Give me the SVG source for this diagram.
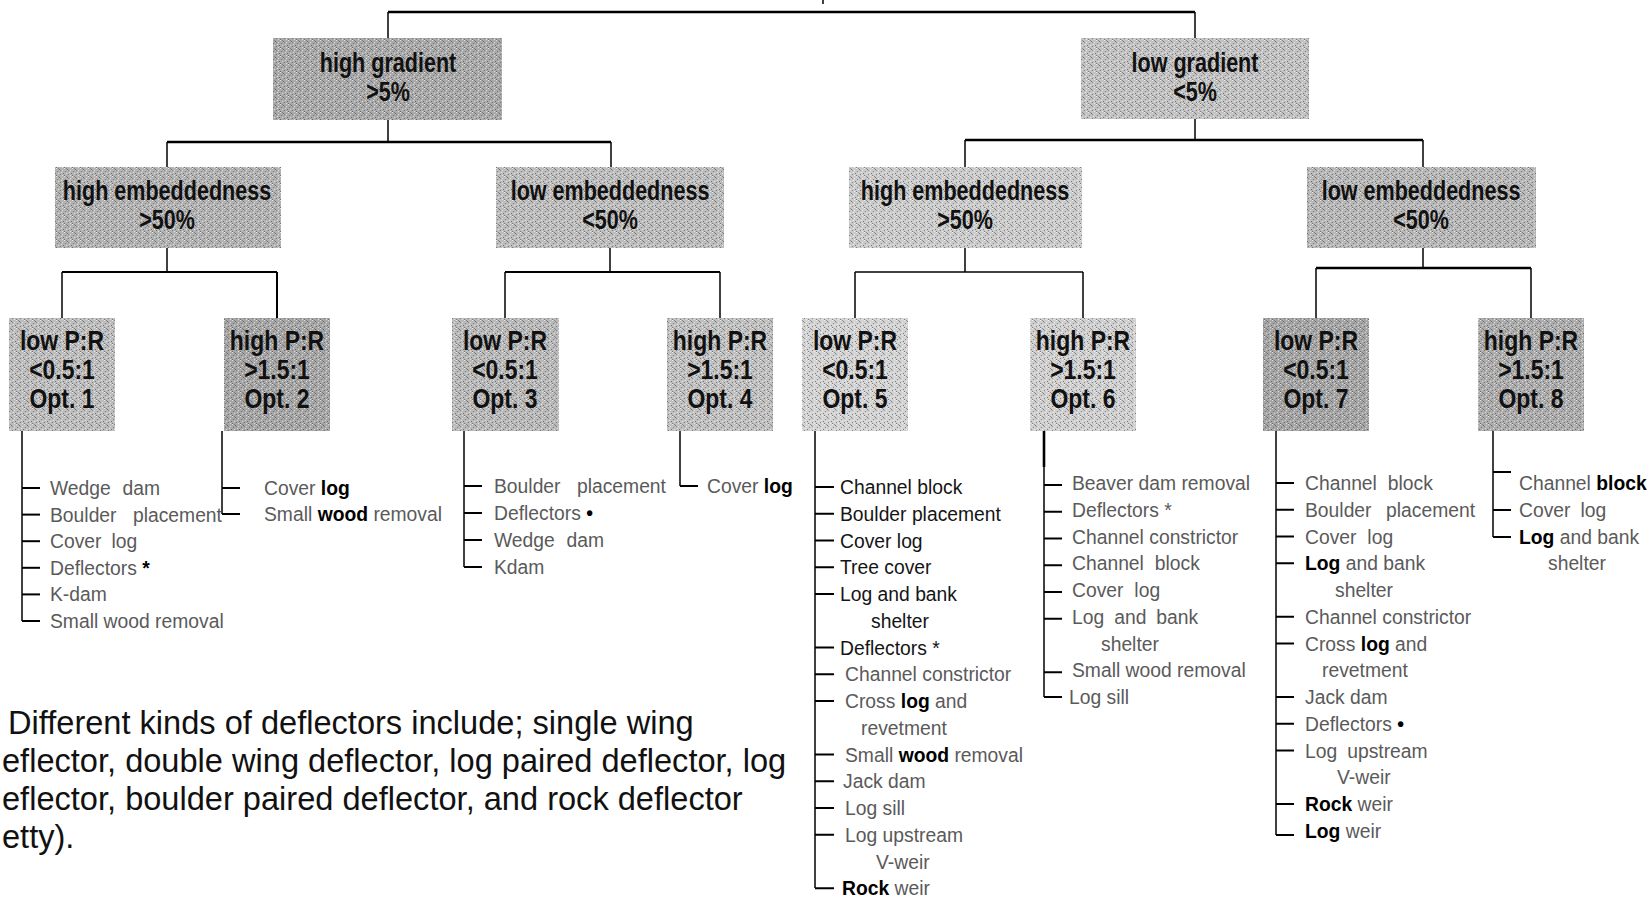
<svg xmlns="http://www.w3.org/2000/svg" width="1651" height="897" viewBox="0 0 1651 897">
<defs>
<pattern id="dith" width="8" height="8" patternUnits="userSpaceOnUse">
<rect x="0" y="0" width="1" height="1" fill="#fff"/><rect x="3" y="1" width="1" height="1" fill="#444"/>
<rect x="6" y="2" width="1" height="1" fill="#fff"/><rect x="1" y="3" width="1" height="1" fill="#555"/>
<rect x="5" y="4" width="1" height="1" fill="#fff"/><rect x="2" y="5" width="1" height="1" fill="#fff"/>
<rect x="7" y="5" width="1" height="1" fill="#444"/><rect x="4" y="6" width="1" height="1" fill="#555"/>
<rect x="0" y="7" width="1" height="1" fill="#444"/><rect x="6" y="7" width="1" height="1" fill="#fff"/>
<rect x="4" y="2" width="1" height="1" fill="#666"/><rect x="2" y="0" width="1" height="1" fill="#666"/>
</pattern>
</defs>
<style>
.dt{fill:url(#dith);opacity:.6}
.h{font-family:"Liberation Sans",Arial,sans-serif;font-weight:bold;font-size:28px;fill:#111;text-anchor:middle}
.li{font-family:"Liberation Sans",Arial,sans-serif;font-size:21px;fill:#5a5a5a}
.dk{fill:#151515}
.b{font-weight:bold;fill:#000}
.fn{font-family:"Liberation Sans",Arial,sans-serif;font-size:32.6px;fill:#111}
.c line{stroke:#000;stroke-width:1.5;fill:none}
.c .t{stroke-width:2.6}
.c .k{stroke-width:2}
</style>
<rect width="1651" height="897" fill="#fff"/>

<g id="connectors" class="c">
<line x1="823" y1="0" x2="823" y2="4"/>
<line class="t" x1="388" y1="12" x2="1195" y2="12"/>
<line x1="388" y1="12" x2="388" y2="38"/>
<line x1="1195" y1="12" x2="1195" y2="38"/>
<line x1="388" y1="120" x2="388" y2="142"/>
<line class="t" x1="167" y1="142" x2="611" y2="142"/>
<line x1="167" y1="142" x2="167" y2="167"/>
<line x1="611" y1="142" x2="611" y2="167"/>
<line x1="1195" y1="119" x2="1195" y2="140"/>
<line class="t" x1="965" y1="140" x2="1423" y2="140"/>
<line x1="965" y1="140" x2="965" y2="167"/>
<line x1="1423" y1="140" x2="1423" y2="167"/>
<line x1="167" y1="248" x2="167" y2="272"/>
<line class="k" x1="62" y1="272" x2="277" y2="272"/>
<line x1="62" y1="272" x2="62" y2="318"/>
<line class="k" x1="277" y1="272" x2="277" y2="318"/>
<line x1="610" y1="248" x2="610" y2="272"/>
<line class="k" x1="505" y1="272" x2="720" y2="272"/>
<line x1="505" y1="272" x2="505" y2="318"/>
<line x1="720" y1="272" x2="720" y2="318"/>
<line x1="965" y1="248" x2="965" y2="272"/>
<line x1="855" y1="272" x2="1083" y2="272"/>
<line x1="855" y1="272" x2="855" y2="318"/>
<line x1="1083" y1="272" x2="1083" y2="318"/>
<line x1="1423" y1="248" x2="1423" y2="268"/>
<line class="t" x1="1316" y1="268" x2="1531" y2="268"/>
<line x1="1316" y1="268" x2="1316" y2="318"/>
<line x1="1531" y1="268" x2="1531" y2="318"/>
<line x1="22" y1="431" x2="22" y2="621"/>
<line class="k" x1="22" y1="488" x2="40" y2="488"/><line class="k" x1="22" y1="514.6" x2="40" y2="514.6"/>
<line class="k" x1="22" y1="541.2" x2="40" y2="541.2"/><line class="k" x1="22" y1="567.8" x2="40" y2="567.8"/>
<line class="k" x1="22" y1="594.4" x2="40" y2="594.4"/><line class="k" x1="22" y1="621" x2="40" y2="621"/>
<line x1="222" y1="431" x2="222" y2="514"/>
<line class="k" x1="222" y1="488" x2="240" y2="488"/><line class="k" x1="222" y1="514" x2="240" y2="514"/>
<line x1="464" y1="431" x2="464" y2="567"/>
<line class="k" x1="464" y1="486" x2="482" y2="486"/><line class="k" x1="464" y1="513" x2="482" y2="513"/>
<line class="k" x1="464" y1="540" x2="482" y2="540"/><line class="k" x1="464" y1="567" x2="482" y2="567"/>
<line x1="680" y1="431" x2="680" y2="486"/>
<line class="k" x1="680" y1="486" x2="698" y2="486"/>
<line x1="815" y1="431" x2="815" y2="888"/>
<line class="k" x1="815" y1="487" x2="834" y2="487"/><line class="k" x1="815" y1="513.75" x2="834" y2="513.75"/>
<line class="k" x1="815" y1="540.5" x2="834" y2="540.5"/><line class="k" x1="815" y1="567.25" x2="834" y2="567.25"/>
<line class="k" x1="815" y1="594" x2="834" y2="594"/><line class="k" x1="815" y1="647.5" x2="834" y2="647.5"/>
<line class="k" x1="815" y1="674.25" x2="834" y2="674.25"/><line class="k" x1="815" y1="701" x2="834" y2="701"/>
<line class="k" x1="815" y1="754.5" x2="834" y2="754.5"/><line class="k" x1="815" y1="781.25" x2="834" y2="781.25"/>
<line class="k" x1="815" y1="808" x2="834" y2="808"/><line class="k" x1="815" y1="834.75" x2="834" y2="834.75"/>
<line class="k" x1="815" y1="888.25" x2="834" y2="888.25"/>
<line class="t" x1="1044" y1="431" x2="1044" y2="467"/>
<line x1="1044" y1="467" x2="1044" y2="697"/>
<line class="k" x1="1044" y1="485" x2="1062" y2="485"/><line class="k" x1="1044" y1="511.75" x2="1062" y2="511.75"/>
<line class="k" x1="1044" y1="538.5" x2="1062" y2="538.5"/><line class="k" x1="1044" y1="565.25" x2="1062" y2="565.25"/>
<line class="k" x1="1044" y1="592" x2="1062" y2="592"/><line class="k" x1="1044" y1="618.75" x2="1062" y2="618.75"/>
<line class="k" x1="1044" y1="672.25" x2="1062" y2="672.25"/><line class="k" x1="1044" y1="697" x2="1062" y2="697"/>
<line x1="1276" y1="431" x2="1276" y2="835"/>
<line class="k" x1="1276" y1="483" x2="1294" y2="483"/><line class="k" x1="1276" y1="509.75" x2="1294" y2="509.75"/>
<line class="k" x1="1276" y1="536.5" x2="1294" y2="536.5"/><line class="k" x1="1276" y1="563.25" x2="1294" y2="563.25"/>
<line class="k" x1="1276" y1="616.75" x2="1294" y2="616.75"/><line class="k" x1="1276" y1="643.5" x2="1294" y2="643.5"/>
<line class="k" x1="1276" y1="697" x2="1294" y2="697"/><line class="k" x1="1276" y1="723.75" x2="1294" y2="723.75"/>
<line class="k" x1="1276" y1="750.5" x2="1294" y2="750.5"/><line class="k" x1="1276" y1="804" x2="1294" y2="804"/>
<line class="k" x1="1276" y1="835" x2="1294" y2="835"/>
<line x1="1493" y1="431" x2="1493" y2="537"/>
<line class="k" x1="1493" y1="472" x2="1511" y2="472"/><line class="k" x1="1493" y1="510" x2="1511" y2="510"/>
<line class="k" x1="1493" y1="537" x2="1511" y2="537"/>
</g>

<g id="high-gradient">
<rect x="273" y="38" width="229" height="82" fill="#a9a9a9"/><rect class="dt" x="273" y="38" width="229" height="82"/>
<text class="h" transform="translate(388,72) scale(0.77,1)">high gradient</text>
<text class="h" transform="translate(388,101) scale(0.77,1)">&gt;5%</text>
</g>
<g id="low-gradient">
<rect x="1081" y="38" width="228" height="81" fill="#c2c2c2"/><rect class="dt" x="1081" y="38" width="228" height="81"/>
<text class="h" transform="translate(1195,72) scale(0.77,1)">low gradient</text>
<text class="h" transform="translate(1195,101) scale(0.77,1)">&lt;5%</text>
</g>

<g id="high-emb-1">
<rect x="55" y="167" width="226" height="81" fill="#b3b3b3"/><rect class="dt" x="55" y="167" width="226" height="81"/>
<text class="h" transform="translate(167,200) scale(0.77,1)">high embeddedness</text>
<text class="h" transform="translate(167,229) scale(0.77,1)">&gt;50%</text>
</g>
<g id="low-emb-1">
<rect x="496" y="167" width="228" height="81" fill="#bdbdbd"/><rect class="dt" x="496" y="167" width="228" height="81"/>
<text class="h" transform="translate(610,200) scale(0.77,1)">low embeddedness</text>
<text class="h" transform="translate(610,229) scale(0.77,1)">&lt;50%</text>
</g>
<g id="high-emb-2">
<rect x="849" y="167" width="233" height="81" fill="#cbcbcb"/><rect class="dt" x="849" y="167" width="233" height="81"/>
<text class="h" transform="translate(965,200) scale(0.77,1)">high embeddedness</text>
<text class="h" transform="translate(965,229) scale(0.77,1)">&gt;50%</text>
</g>
<g id="low-emb-2">
<rect x="1307" y="167" width="229" height="81" fill="#b7b7b7"/><rect class="dt" x="1307" y="167" width="229" height="81"/>
<text class="h" transform="translate(1421,200) scale(0.77,1)">low embeddedness</text>
<text class="h" transform="translate(1421,229) scale(0.77,1)">&lt;50%</text>
</g>

<g id="opt1">
<rect x="9" y="318" width="106" height="113" fill="#bdbdbd"/><rect class="dt" x="9" y="318" width="106" height="113"/>
<text class="h" transform="translate(62,350) scale(0.82,1)">low P:R</text>
<text class="h" transform="translate(62,379) scale(0.82,1)">&lt;0.5:1</text>
<text class="h" transform="translate(62,408) scale(0.82,1)">Opt. 1</text>
<g class="li">
<text transform="translate(50,495) scale(0.92,1)" style="word-spacing:7px">Wedge dam</text>
<text transform="translate(50,521.6) scale(0.92,1)" style="word-spacing:12px">Boulder placement</text>
<text transform="translate(50,548.2) scale(0.92,1)" style="word-spacing:5px">Cover log</text>
<text transform="translate(50,574.8) scale(0.92,1)">Deflectors <tspan class="b">*</tspan></text>
<text transform="translate(50,601.4) scale(0.92,1)">K-dam</text>
<text transform="translate(50,628) scale(0.92,1)">Small wood removal</text>
</g>
</g>
<g id="opt2">
<rect x="224" y="318" width="106" height="113" fill="#a6a6a6"/><rect class="dt" x="224" y="318" width="106" height="113"/>
<text class="h" transform="translate(277,350) scale(0.82,1)">high P:R</text>
<text class="h" transform="translate(277,379) scale(0.82,1)">&gt;1.5:1</text>
<text class="h" transform="translate(277,408) scale(0.82,1)">Opt. 2</text>
<g class="li">
<text transform="translate(264,495) scale(0.92,1)">Cover <tspan class="b">log</tspan></text>
<text transform="translate(264,521) scale(0.92,1)">Small <tspan class="b">wood</tspan> removal</text>
</g>
</g>
<g id="opt3">
<rect x="452" y="318" width="107" height="113" fill="#b9b9b9"/><rect class="dt" x="452" y="318" width="107" height="113"/>
<text class="h" transform="translate(505,350) scale(0.82,1)">low P:R</text>
<text class="h" transform="translate(505,379) scale(0.82,1)">&lt;0.5:1</text>
<text class="h" transform="translate(505,408) scale(0.82,1)">Opt. 3</text>
<g class="li">
<text transform="translate(494,493) scale(0.92,1)" style="word-spacing:12px">Boulder placement</text>
<text transform="translate(494,520) scale(0.92,1)">Deflectors  <tspan class="b">•</tspan></text>
<text transform="translate(494,547) scale(0.92,1)" style="word-spacing:7px">Wedge dam</text>
<text transform="translate(494,574) scale(0.92,1)">Kdam</text>
</g>
</g>
<g id="opt4">
<rect x="667" y="318" width="106" height="113" fill="#c0c0c0"/><rect class="dt" x="667" y="318" width="106" height="113"/>
<text class="h" transform="translate(720,350) scale(0.82,1)">high P:R</text>
<text class="h" transform="translate(720,379) scale(0.82,1)">&gt;1.5:1</text>
<text class="h" transform="translate(720,408) scale(0.82,1)">Opt. 4</text>
<g class="li">
<text transform="translate(707,493) scale(0.92,1)">Cover <tspan class="b">log</tspan></text>
</g>
</g>
<g id="opt5">
<rect x="802" y="318" width="106" height="113" fill="#d3d3d3"/><rect class="dt" x="802" y="318" width="106" height="113"/>
<text class="h" transform="translate(855,350) scale(0.82,1)">low P:R</text>
<text class="h" transform="translate(855,379) scale(0.82,1)">&lt;0.5:1</text>
<text class="h" transform="translate(855,408) scale(0.82,1)">Opt. 5</text>
<g class="li">
<text class="dk" transform="translate(840,494) scale(0.92,1)">Channel block</text>
<text class="dk" transform="translate(840,520.75) scale(0.92,1)">Boulder placement</text>
<text class="dk" transform="translate(840,547.5) scale(0.92,1)">Cover log</text>
<text class="dk" transform="translate(840,574.25) scale(0.92,1)">Tree cover</text>
<text class="dk" transform="translate(840,601) scale(0.92,1)">Log and bank</text>
<text class="dk" transform="translate(871,627.75) scale(0.92,1)">shelter</text>
<text class="dk" transform="translate(840,654.5) scale(0.92,1)">Deflectors *</text>
<text transform="translate(845,681.25) scale(0.92,1)">Channel constrictor</text>
<text transform="translate(845,708) scale(0.92,1)">Cross <tspan class="b">log</tspan> and</text>
<text transform="translate(861,734.75) scale(0.92,1)">revetment</text>
<text transform="translate(845,761.5) scale(0.92,1)">Small <tspan class="b">wood</tspan> removal</text>
<text transform="translate(843,788.25) scale(0.92,1)">Jack dam</text>
<text transform="translate(845,815) scale(0.92,1)">Log sill</text>
<text transform="translate(845,841.75) scale(0.92,1)">Log upstream</text>
<text transform="translate(876,868.5) scale(0.92,1)">V-weir</text>
<text transform="translate(842,895.25) scale(0.92,1)"><tspan class="b">Rock</tspan> weir</text>
</g>
</g>
<g id="opt6">
<rect x="1030" y="318" width="106" height="113" fill="#cfcfcf"/><rect class="dt" x="1030" y="318" width="106" height="113"/>
<text class="h" transform="translate(1083,350) scale(0.82,1)">high P:R</text>
<text class="h" transform="translate(1083,379) scale(0.82,1)">&gt;1.5:1</text>
<text class="h" transform="translate(1083,408) scale(0.82,1)">Opt. 6</text>
<g class="li">
<text transform="translate(1072,490) scale(0.92,1)">Beaver dam removal</text>
<text transform="translate(1072,516.75) scale(0.92,1)">Deflectors *</text>
<text transform="translate(1072,543.5) scale(0.92,1)">Channel constrictor</text>
<text transform="translate(1072,570.25) scale(0.92,1)" style="word-spacing:6px">Channel block</text>
<text transform="translate(1072,597) scale(0.92,1)" style="word-spacing:6px">Cover log</text>
<text transform="translate(1072,623.75) scale(0.92,1)" style="word-spacing:5px">Log and bank</text>
<text transform="translate(1101,650.5) scale(0.92,1)">shelter</text>
<text transform="translate(1072,677.25) scale(0.92,1)">Small wood removal</text>
<text transform="translate(1069,704) scale(0.92,1)">Log sill</text>
</g>
</g>
<g id="opt7">
<rect x="1263" y="318" width="106" height="113" fill="#a5a5a5"/><rect class="dt" x="1263" y="318" width="106" height="113"/>
<text class="h" transform="translate(1316,350) scale(0.82,1)">low P:R</text>
<text class="h" transform="translate(1316,379) scale(0.82,1)">&lt;0.5:1</text>
<text class="h" transform="translate(1316,408) scale(0.82,1)">Opt. 7</text>
<g class="li">
<text transform="translate(1305,490) scale(0.92,1)" style="word-spacing:6px">Channel block</text>
<text transform="translate(1305,516.75) scale(0.92,1)" style="word-spacing:10px">Boulder placement</text>
<text transform="translate(1305,543.5) scale(0.92,1)" style="word-spacing:6px">Cover log</text>
<text transform="translate(1305,570.25) scale(0.92,1)"><tspan class="b">Log</tspan> and bank</text>
<text transform="translate(1335,597) scale(0.92,1)">shelter</text>
<text transform="translate(1305,623.75) scale(0.92,1)">Channel constrictor</text>
<text transform="translate(1305,650.5) scale(0.92,1)">Cross <tspan class="b">log</tspan> and</text>
<text transform="translate(1322,677.25) scale(0.92,1)">revetment</text>
<text transform="translate(1305,704) scale(0.92,1)">Jack dam</text>
<text transform="translate(1305,730.75) scale(0.92,1)">Deflectors  <tspan class="b">•</tspan></text>
<text transform="translate(1305,757.5) scale(0.92,1)" style="word-spacing:5px">Log upstream</text>
<text transform="translate(1337,784.25) scale(0.92,1)">V-weir</text>
<text transform="translate(1305,811) scale(0.92,1)"><tspan class="b">Rock</tspan> weir</text>
<text transform="translate(1305,837.75) scale(0.92,1)"><tspan class="b">Log</tspan> weir</text>
</g>
</g>
<g id="opt8">
<rect x="1478" y="318" width="106" height="113" fill="#adadad"/><rect class="dt" x="1478" y="318" width="106" height="113"/>
<text class="h" transform="translate(1531,350) scale(0.82,1)">high P:R</text>
<text class="h" transform="translate(1531,379) scale(0.82,1)">&gt;1.5:1</text>
<text class="h" transform="translate(1531,408) scale(0.82,1)">Opt. 8</text>
<g class="li">
<text transform="translate(1519,490) scale(0.92,1)">Channel <tspan class="b">block</tspan></text>
<text transform="translate(1519,517) scale(0.92,1)" style="word-spacing:5px">Cover log</text>
<text transform="translate(1519,544) scale(0.92,1)"><tspan class="b">Log</tspan> and bank</text>
<text transform="translate(1548,570) scale(0.92,1)">shelter</text>
</g>
</g>

<g id="footnote" class="fn">
<text x="8" y="734">Different kinds of deflectors include; single wing</text>
<text x="2" y="772">eflector, double wing deflector, log paired deflector, log</text>
<text x="2" y="810">eflector, boulder paired deflector, and rock deflector</text>
<text x="2" y="848">etty).</text>
</g>
</svg>
